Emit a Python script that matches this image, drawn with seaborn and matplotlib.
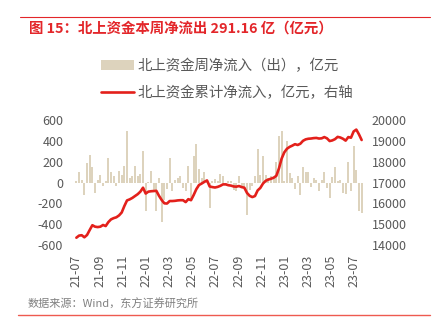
import numpy as np
import pandas as pd
import matplotlib
matplotlib.use("Agg")
import matplotlib.pyplot as plt
from matplotlib.lines import Line2D
from matplotlib.patches import Patch
import seaborn as sns

# ---------------- data ----------------
start_date = "2021-07-02"
n_weeks = 108

weekly_flow = [
    10, 105, 20, -118, 185, 265, 145, -96, 25, 75,
    -30, 15, 235, 105, 65, -38, 110, 75, 160, 490,
    48, 58, 155, 65, 80, 300, -270, 5, 112, -77,
    -278, 48, -375, -166, -60, 235, -86, 25, 40, 58,
    -55, -86, 154, -182, 256, 371, 130, 40, 105, 20,
    -240, 15, 30, 10, 80, 58, -20, 10, 15, -70,
    -80, 58, -38, -48, -310, -70, -38, 58, 323, 74,
    250, 74, 40, 58, 40, 200, 442, 490, 10, 394,
    90, 40, -60, 64, -120, 147, 105, 105, -42, 48,
    25, -80, 20, 105, -55, -150, 55, 150, 10, 20,
    -100, -115, 200, -86, 352, 122, -278, -291.16,
]

cumulative_flow = [
    14350, 14450, 14470, 14370, 14480, 14720, 14950, 14880, 14860, 14880,
    14960, 14910, 15100, 15230, 15290, 15330, 15420, 15560, 15870, 16140,
    16190, 16260, 16350, 16440, 16560, 16750, 16470, 16560, 16580, 16590,
    16600, 16360, 16160, 16000, 15990, 16110, 16110, 16120, 16140, 16150,
    16150, 16060, 16200, 16150, 16400, 16680, 16880, 16950, 17030, 17100,
    16810, 16780, 16760, 16790, 16840, 16910, 16910, 16870, 16850, 16810,
    16800, 16830, 16780, 16750, 16500, 16360, 16300, 16350, 16620, 16740,
    16950, 17080, 17140, 17180, 17230, 17320, 17680, 18150, 18450, 18620,
    18710, 18770, 18840, 18800, 18860, 19000, 19070, 19100, 19110, 19130,
    19140, 19110, 19120, 19180, 19120, 18990, 19020, 19080, 19190, 19160,
    19100, 19010, 19180, 19150, 19450, 19540, 19310, 19040,
]

tick_months = ["2021-07-01", "2021-09-01", "2021-11-01", "2022-01-01", "2022-03-01",
               "2022-05-01", "2022-07-01", "2022-09-01", "2022-11-01", "2023-01-01",
               "2023-03-01", "2023-05-01", "2023-07-01"]
tick_labels = ["21-07", "21-09", "21-11", "22-01", "22-03", "22-05", "22-07",
               "22-09", "22-11", "23-01", "23-03", "23-05", "23-07"]

title_text = "图 15：北上资金本周净流出 291.16 亿（亿元）"
bar_label = "北上资金周净流入（出），亿元"
line_label = "北上资金累计净流入，亿元，右轴"
source_text = "数据来源：Wind，东方证券研究所"

# ---------------- style ----------------
sns.set_style("white")
plt.rcParams["font.family"] = ["Noto Sans CJK SC", "DejaVu Sans"]
plt.rcParams["axes.unicode_minus"] = False

BAR_C = "#DDD3BD"
LINE_C = "#E3201B"
TITLE_C = "#E3262A"
TICK_C = "#595959"

week_idx = np.arange(n_weeks)
df = pd.DataFrame({"week": week_idx, "flow": weekly_flow, "cum": cumulative_flow})

W, H = 436, 328
fig = plt.figure(figsize=(W / 100, H / 100), dpi=100)
ax = fig.add_axes([73.7 / W, 1 - 245 / H, (364.3 - 73.7) / W, (245 - 120) / H])
ax2 = ax.twinx()

sns.barplot(data=df, x="week", y="flow", ax=ax, native_scale=True, color=BAR_C,
            saturation=1, errorbar=None, width=0.8, linewidth=0)
sns.lineplot(data=df, x="week", y="cum", ax=ax2, color=LINE_C, linewidth=1.9)

ax.set_ylim(-600, 600)
ax.set_yticks(np.arange(-600, 601, 200))
ax2.set_ylim(14000, 20000)
ax2.set_yticks(np.arange(14000, 20001, 1000))

t0 = pd.Timestamp(start_date)
tick_pos = [(pd.Timestamp(m) - t0).days / 7 for m in tick_months]
ax.set_xlim(-1, 108)
ax.set_xticks(tick_pos)
ax.set_xticklabels(tick_labels, rotation=90)

for a in (ax, ax2):
    for s in a.spines.values():
        s.set_visible(False)
    a.set_xlabel("")
    a.set_ylabel("")
    a.grid(False)

ax.tick_params(axis="y", length=0, labelsize=9, colors=TICK_C, pad=7.5)
ax.tick_params(axis="x", length=0, labelsize=9, colors=TICK_C, pad=7)
ax2.tick_params(axis="y", length=0, labelsize=9, colors=TICK_C, pad=5.5)

# legend
handles = [Patch(facecolor=BAR_C, edgecolor="none", label=bar_label),
           Line2D([0], [0], color=LINE_C, lw=1.9, label=line_label)]
fig.legend(handles=handles, loc="upper left", bbox_to_anchor=(101 / W, 1 - 58.5 / H),
           frameon=False, fontsize=10.4, labelcolor=TICK_C, handlelength=2.3,
           handletextpad=0.25, labelspacing=0.9, borderpad=0, borderaxespad=0)

# title, rules, source
fig.add_artist(Line2D([20 / W, 430 / W], [1 - 17 / H] * 2, color=TITLE_C, lw=0.8))
fig.text(29 / W, 1 - 29 / H, title_text, fontsize=10.4, fontweight="bold",
         color=TITLE_C, va="center", ha="left")
fig.text(28 / W, 1 - 304 / H, source_text, fontsize=8, color="#808080",
         va="center", ha="left")
fig.add_artist(Line2D([18 / W, 430 / W], [1 - 315 / H] * 2, color="#EE5A50", lw=1.0))

fig.savefig("out.png", dpi=100)
